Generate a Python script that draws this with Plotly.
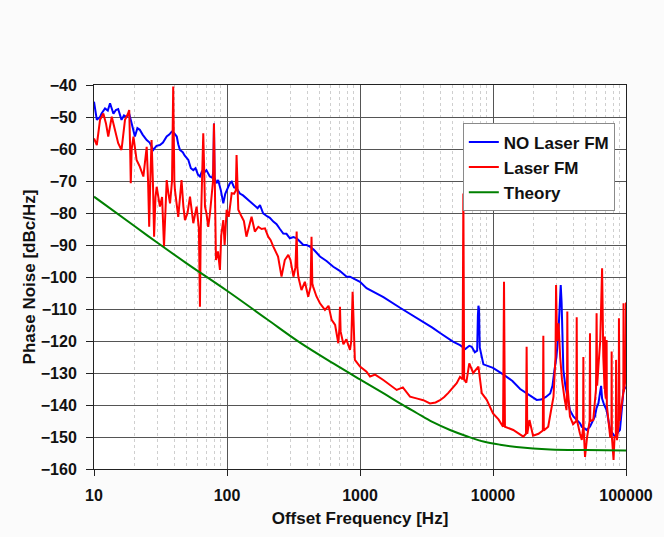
import plotly.graph_objects as go

# ---------------- data ----------------
no_fm_freq = [10, 10.5, 11.1, 11.4, 12.1, 12.7, 13.2, 13.6, 14.0, 14.6, 15.2, 16.1, 16.8, 17.6, 18.4,
              19.2, 20.3, 21.2, 22.1, 23.2, 24.9, 26.2, 27.9, 29.5, 31.3, 33.0, 35.2, 36.8, 38.4, 40.0,
              41.9, 43.0, 44.3, 46.5, 48.0, 51.2, 53.5, 55.8, 58.0, 60.5, 62.6, 65, 67, 70, 74.3, 77.5,
              79.0, 79.8, 80.6, 83.4, 85.8, 90, 93.8, 97, 101.9, 105, 108.5, 113, 118, 125, 132, 140,
              150, 158, 170, 177, 187, 200, 210, 223, 236, 250, 265, 280, 297, 316, 334, 355, 375, 397,
              420, 450, 500, 560, 630, 700, 794, 840, 940, 1000, 1120, 1500, 2000, 2500, 3000, 3500,
              4000, 4500, 5000, 5650, 6200, 6630, 6920, 7300, 7600, 7700, 7770, 7850, 7950, 8470,
              10000, 12000, 14000, 16000, 18800, 21300, 23000, 25000, 26900, 28000, 29000, 30000,
              31000, 32000, 32300, 32800, 33800, 35000, 37900, 40200, 45100, 46500, 50600, 53600,
              56700, 58400, 60000, 62000, 63700, 65000, 66100, 68500, 71500, 75900, 78000, 82500,
              90100, 93000, 95800, 100000]
no_fm_db = [-45.2, -50.9, -50.0, -48.9, -47.3, -48.0, -45.7, -47.5, -49.0, -47.8, -47.5, -50.9, -49.5,
            -50.0, -49.0, -52.0, -56.1, -53.5, -54.0, -55.5, -57.2, -58.0, -60.3, -59.0, -58.75, -58.0,
            -56.1, -55.5, -54.6, -55.0, -56.1, -58.5, -60.3, -61.0, -62.0, -63.4, -66.0, -66.6, -66.0,
            -68.0, -68.6, -66.8, -67.5, -66.6, -68.6, -69.0, -67.0, -52.0, -69.0, -70.7, -69.7, -73.0,
            -77.0, -74.0, -71.8, -70.7, -70.2, -72.0, -72.2, -73.9, -74.5, -75.5, -76.5, -77.5, -78.5,
            -77.5, -80.1, -81.0, -81.5, -82.7, -83.5, -85.0, -86.4, -86.5, -87.9, -87.5, -87.9, -89.0,
            -90.0, -90.0, -90.5, -91.5, -93.6, -95.0, -96.8, -98.0, -99.9, -99.9, -101.0, -101.5,
            -103.5, -106.3, -109.6, -112.0, -114.2, -115.8, -117.5, -119.0, -120.2, -121.3, -122.5,
            -121.5, -121.8, -123.5, -123.0, -112.0, -109.0, -110.0, -122.0, -127.3, -128.4, -130.5,
            -132.5, -135.0, -137.0, -138.4, -138.3, -137.5, -136.4, -134.0, -129.0, -125.0, -118.0,
            -108.0, -102.5, -108.0, -129.0, -134.0, -141.6, -143.6, -145.7, -146.8, -147.8, -146.8,
            -144.7, -143.6, -141.0, -139.5, -136.3, -134.0, -138.0, -140.0, -141.6, -147.8, -148.5,
            -149.9, -147.8, -141.6, -135.3, -134.3]

fm_freq = [10, 10.5, 11.1, 11.75, 12.3, 12.8, 13.6, 14.4, 15.2, 16.1, 17.1, 18.0, 18.4, 18.7, 18.9,
           19.2, 19.8, 20.9, 22.1, 23.5, 24.9, 25.5, 26.0, 26.5, 27.1, 27.8, 28.3, 29.0, 29.6, 31.3,
           32.5, 33.6, 34.5, 35.2, 36.3, 37.3, 38.6, 39.4, 40.2, 40.6, 43.0, 45.5, 47.0, 48.3, 50.5,
           52.7, 55.8, 57.5, 59.1, 61.5, 62.6, 63.5, 64.5, 66.3, 67.5, 68.3, 70, 72.3, 74.5, 76.6,
           78.5, 79.8, 81.0, 82.6, 85.5, 88.5, 90.5, 93.8, 96, 99.4, 103, 108.5, 113, 116.5, 118,
           119.5, 121.6, 129, 134, 140, 147, 153, 162, 172, 182, 193, 204, 213, 223, 242, 257, 272,
           289, 300, 316, 327, 334, 338, 344, 363, 385, 408, 425, 432, 438, 444, 470, 500, 545, 580,
           612, 650, 687, 700, 707, 715, 750, 790, 841, 860, 880, 900, 915, 1000, 1120, 1190, 1300,
           1497, 1650, 1888, 2100, 2377, 2700, 2992, 3359, 3700, 3996, 4300, 4614, 5000, 5333, 5650,
           5900, 5986, 6070, 6300, 6630, 7100, 7770, 8230, 8970, 10000, 11000, 11900, 12100, 12300,
           14200, 16900, 17700, 17900, 18100, 18800, 20000, 22000, 23700, 23900, 24100, 26000, 28500,
           29500, 29800, 30300, 31100, 32000, 33000, 34500, 35700, 36000, 36200, 36500, 37900, 40000,
           42300, 42600, 42900, 45000, 46500, 47600, 47800, 48000, 49200, 51000, 53300, 53600, 53900,
           56700, 59500, 60100, 60700, 62000, 64000, 66100, 67500, 69000, 69300, 69600, 70500, 71200,
           71500, 71800, 73000, 76000, 77700, 78000, 78300, 79000, 80600, 82000, 83900, 84200, 84500,
           85500, 87000, 88200, 88500, 88800, 89500, 92000, 95500, 95800, 96100, 97000, 99000, 100000]
fm_db = [-56.7, -58.75, -50.9, -48.9, -52.0, -56.1, -49.9, -54.0, -58.2, -60.3, -50.9, -49.0, -47.8,
         -60.0, -70.7, -60.0, -56.1, -63.4, -65.5, -68.6, -59.3, -70.0, -84.3, -70.0, -57.2, -72.0,
         -87.4, -75.0, -71.8, -78.0, -75.0, -90.5, -78.0, -69.7, -74.0, -77.0, -70.0, -40.5, -70.0,
         -72.8, -81.2, -69.7, -78.0, -82.2, -80.0, -74.9, -83.2, -80.0, -78.0, -85.0, -109.3, -85.0,
         -69.7, -55.1, -68.0, -78.0, -80.0, -84.3, -80.0, -74.9, -70.0, -52.0, -75.0, -94.7, -92.0,
         -97.8, -87.0, -82.2, -90.0, -79.0, -81.2, -73.8, -74.0, -73.0, -61.9, -74.0, -79.0, -81.2,
         -82.5, -87.4, -84.0, -81.2, -85.8, -84.3, -85.0, -84.8, -87.4, -88.5, -90.5, -93.6, -99.9,
         -94.7, -93.1, -94.7, -99.9, -97.0, -85.8, -97.0, -100.0, -104.1, -101.5, -106.2, -103.0,
         -87.4, -102.0, -103.0, -106.0, -108.2, -110.3, -109.0, -113.4, -115.0, -120.7, -116.0,
         -109.3, -117.0, -121.0, -119.5, -122.8, -120.0, -104.6, -120.0, -125.9, -128.0, -129.6,
         -131.1, -130.5, -132.2, -133.5, -135.3, -134.5, -137.4, -138.0, -138.5, -139.5, -139.2,
         -138.5, -137.5, -136.2, -134.5, -133.2, -131.2, -132.0, -73.9, -132.0, -133.0, -127.0,
         -130.0, -128.0, -136.3, -138.4, -142.6, -144.5, -146.8, -101.5, -146.8, -147.8, -149.9,
         -149.0, -121.8, -149.0, -144.7, -149.6, -149.0, -148.0, -118.4, -148.0, -146.8, -137.4,
         -125.0, -102.5, -120.0, -114.5, -125.0, -132.0, -138.0, -141.6, -135.0, -110.8, -135.0,
         -143.6, -146.0, -145.0, -112.6, -145.0, -148.8, -150.9, -147.0, -125.0, -147.0, -156.2,
         -150.0, -145.0, -117.6, -145.0, -144.7, -135.0, -111.3, -134.0, -128.0, -120.0, -97.3,
         -125.0, -135.0, -118.6, -136.0, -138.0, -137.0, -119.7, -140.0, -143.0, -149.9, -150.0,
         -123.3, -150.0, -152.0, -157.2, -150.0, -150.0, -125.9, -151.0, -151.0, -148.0, -146.0,
         -112.9, -145.0, -145.0, -141.0, -136.0, -108.2, -136.0, -135.0, -132.0, -108.0]

theory_freq = [10, 20, 30, 50, 100, 200, 354, 630, 1000, 1497, 2000, 2668, 3500, 4753, 6500, 8470,
               11300, 15000, 26900, 50000, 100000]
theory_db = [-74.9, -84.0, -89.3, -95.8, -104.3, -113.2, -120.5, -127.0, -132.0, -136.3, -139.5,
             -142.5, -145.3, -147.8, -149.9, -151.4, -152.4, -153.1, -153.9, -154.1, -154.2]

x_tick_vals = [10, 100, 1000, 10000, 100000]
x_tick_text = ["10", "100", "1000", "10000", "100000"]
y_tick_vals = [-40, -50, -60, -70, -80, -90, -100, -110, -120, -130, -140, -150, -160]

FONT = "Liberation Sans, Arial, sans-serif"
TXT = "#111111"

fig = go.Figure()
fig.add_trace(go.Scatter(x=no_fm_freq, y=no_fm_db, mode="lines", name="<b>NO Laser FM</b>",
                         line=dict(color="#0000ff", width=2)))
fig.add_trace(go.Scatter(x=fm_freq, y=fm_db, mode="lines", name="<b>Laser FM</b>",
                         line=dict(color="#ff0000", width=2)))
fig.add_trace(go.Scatter(x=theory_freq, y=theory_db, mode="lines", name="<b>Theory</b>",
                         line=dict(color="#008000", width=2, shape="spline")))

fig.update_layout(
    width=664, height=537,
    margin=dict(l=94, r=38, t=85, b=68),
    paper_bgcolor="#fbfbfb",
    plot_bgcolor="#ffffff",
    font=dict(family=FONT, size=16, color=TXT),
    showlegend=True,
    legend=dict(x=0.979, y=0.90, xanchor="right", yanchor="top",
                bgcolor="#ffffff", bordercolor="#8a8a8a", borderwidth=1,
                font=dict(family=FONT, size=17, color=TXT),
                itemwidth=30, tracegroupgap=0),
)

fig.update_xaxes(
    type="log", range=[1, 5],
    tickvals=x_tick_vals, ticktext=x_tick_text,
    tickfont=dict(family=FONT, size=16, color=TXT, weight="bold"),
    ticks="outside", ticklen=6, tickcolor="#222222", ticklabelstandoff=6,
    showline=True, linecolor="#222222", linewidth=1, mirror=True,
    showgrid=True, gridcolor="#555555", gridwidth=1,
    minor=dict(dtick="D1", showgrid=True, gridcolor="#cfcfcf", griddash="dot", gridwidth=1, ticks=""),
    zeroline=False,
    title=dict(text="<b>Offset Frequency [Hz]</b>", font=dict(family=FONT, size=17, color=TXT),
               standoff=8),
)
fig.update_yaxes(
    range=[-160, -40],
    tickvals=y_tick_vals,
    tickfont=dict(family=FONT, size=16, color=TXT, weight="bold"),
    ticks="outside", ticklen=7, tickcolor="#222222", ticklabelstandoff=6,
    showline=True, linecolor="#222222", linewidth=1, mirror=True,
    showgrid=True, gridcolor="#555555", gridwidth=1,
    zeroline=False,
    title=dict(text="<b>Phase Noise [dBc/Hz]</b>", font=dict(family=FONT, size=17, color=TXT),
               standoff=0),
)

fig.write_html("out.html")
